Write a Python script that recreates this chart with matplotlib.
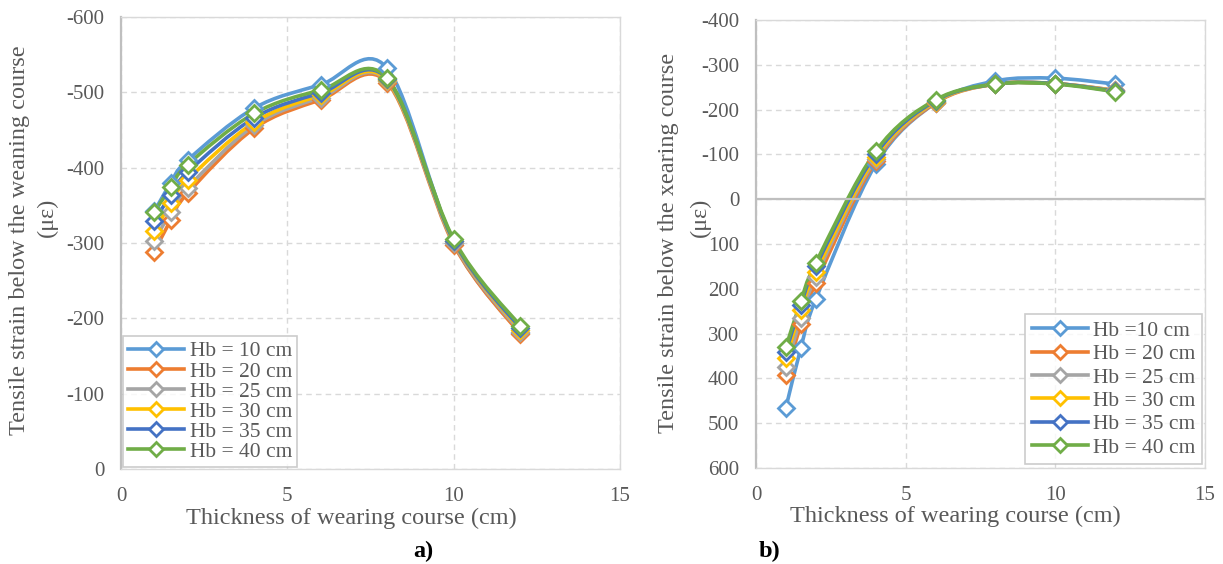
import matplotlib
matplotlib.use("Agg")
import matplotlib.pyplot as plt
from matplotlib.path import Path
from matplotlib.patches import PathPatch
from matplotlib.lines import Line2D
import numpy as np

plt.rcParams['font.family'] = ['Liberation Serif', 'DejaVu Serif']

# ---------------- data ----------------
thickness = [1, 1.5, 2, 4, 6, 8, 10, 12]
series_names_a = ["Hb = 10 cm", "Hb = 20 cm", "Hb = 25 cm", "Hb = 30 cm", "Hb = 35 cm", "Hb = 40 cm"]
series_names_b = ["Hb =10 cm", "Hb = 20 cm", "Hb = 25 cm", "Hb = 30 cm", "Hb = 35 cm", "Hb = 40 cm"]

# panel a) strain below the wearing course (negative values, reversed axis)
hb10_a = [-342, -380, -410, -479, -510, -532, -300, -180]
hb20_a = [-288, -331, -366, -452, -490, -513, -298, -179]
hb25_a = [-303, -341, -373, -456, -493, -515, -300, -182]
hb30_a = [-316, -353, -384, -460, -496, -516, -302, -185]
hb35_a = [-329, -364, -394, -466, -499, -518, -303, -187]
hb40_a = [-341, -374, -404, -472, -503, -519, -305, -190]

# panel b)
hb10_b = [465, 332, 223, -78, -215, -264, -270, -257]
hb20_b = [393, 279, 187, -85, -215, -257, -258, -243]
hb25_b = [374, 266, 173, -90, -217, -257, -258, -243]
hb30_b = [355, 247, 162, -95, -218, -257, -258, -242]
hb35_b = [340, 236, 150, -101, -220, -257, -258, -241]
hb40_b = [330, 227, 142, -107, -222, -257, -257, -240]

colors = ["#5B9BD5", "#ED7D31", "#A5A5A5", "#FFC000", "#4472C4", "#70AD47"]

yticks_a = [-600, -500, -400, -300, -200, -100, 0]
yticks_b = [-400, -300, -200, -100, 0, 100, 200, 300, 400, 500, 600]
xticks = [0, 5, 10, 15]

TXT = "#595959"


def smooth_path(xs, ys):
    """Excel-style smoothed line: Catmull-Rom Bezier segments."""
    pts = np.column_stack([xs, ys]).astype(float)
    n = len(pts)
    verts = [pts[0]]
    codes = [Path.MOVETO]
    for i in range(n - 1):
        p0 = pts[i - 1] if i > 0 else pts[i]
        p1 = pts[i]
        p2 = pts[i + 1]
        p3 = pts[i + 2] if i + 2 < n else pts[i + 1]
        c1 = p1 + (p2 - p0) / 6.0
        c2 = p2 - (p3 - p1) / 6.0
        verts += [c1, c2, p2]
        codes += [Path.CURVE4] * 3
    return Path(verts, codes)


def style_axes(ax, ylim, yticks, xlabel_x):
    ax.set_xlim(0, 15)
    ax.set_ylim(*ylim)
    ax.set_xticks(xticks)
    ax.set_yticks(yticks)
    ax.set_yticklabels([str(v) for v in yticks])
    ax.grid(True, linestyle=(0, (4, 3)), color="#D9D9D9", lw=1)
    ax.set_axisbelow(True)
    for s in ax.spines.values():
        s.set_color("#D9D9D9")
        s.set_linewidth(1)
    ax.spines['left'].set_color("#BFBFBF")
    ax.spines['left'].set_linewidth(1.6)
    ax.tick_params(length=0, labelsize=15, colors=TXT)
    ax.tick_params(axis='y', pad=12)
    ax.tick_params(axis='x', pad=13)
    ax.set_xlabel("Thickness of wearing course (cm)", fontsize=17.5, color=TXT, labelpad=0)
    ax.xaxis.set_label_coords(xlabel_x, -0.085)


def draw_series(ax, data, names):
    handles = []
    for vals, c, nm in zip(data, colors, names):
        patch = PathPatch(smooth_path(thickness, vals), facecolor='none', edgecolor=c,
                          lw=2.6, capstyle='round', joinstyle='round')
        ax.add_patch(patch)
        ax.plot(thickness, vals, linestyle='none', marker='D', ms=8, mfc='white',
                mec=c, mew=2.0)
        handles.append(Line2D([], [], color=c, lw=2.6, marker='D', ms=7.5, mfc='white',
                              mec=c, mew=2.0, label=nm))
    return handles


fig = plt.figure(figsize=(12.23, 5.64), dpi=100)

# ---- panel a ----
axa = fig.add_axes([121 / 1223, 95 / 564, 499 / 1223, 452 / 564])
style_axes(axa, (0, -600), yticks_a, 0.461)
ha = draw_series(axa, [hb10_a, hb20_a, hb25_a, hb30_a, hb35_a, hb40_a], series_names_a)
lega = axa.legend(handles=ha, loc='lower left', bbox_to_anchor=(0.004, 0.004),
                  borderaxespad=0, fontsize=15.5, frameon=True, fancybox=False,
                  edgecolor="#BFBFBF", labelspacing=0.0, handlelength=2.6,
                  handletextpad=0.25, borderpad=0.25, labelcolor=TXT)
lega.get_frame().set_linewidth(1.2)
fig.text(20 / 1223, 1 - 240 / 564, "Tensile strain below the weaning course",
         rotation=90, ha='center', va='center', fontsize=17.5, color=TXT)
fig.text(47 / 1223, 1 - 217 / 564, "(με)",
         rotation=90, ha='center', va='center', fontsize=17.5, color=TXT)
fig.text(423 / 1223, 1 - 551 / 564, "a)", ha='center', va='center', fontsize=17.5,
         fontweight='bold', color='black')

# ---- panel b ----
axb = fig.add_axes([756 / 1223, 96 / 564, 449 / 1223, 448 / 564])
style_axes(axb, (600, -400), yticks_b, 0.443)
axb.axhline(0, color="#BFBFBF", lw=1.6, zorder=1.5)
hb = draw_series(axb, [hb10_b, hb20_b, hb25_b, hb30_b, hb35_b, hb40_b], series_names_b)
legb = axb.legend(handles=hb, loc='lower right', bbox_to_anchor=(0.993, 0.009),
                  borderaxespad=0, fontsize=15.5, frameon=True, fancybox=False,
                  edgecolor="#BFBFBF", labelspacing=0.15, handlelength=2.6,
                  handletextpad=0.25, borderpad=0.3, labelcolor=TXT)
legb.get_frame().set_linewidth(1.2)
fig.text(668 / 1223, 1 - 243 / 564, "Tensile strain below the xearing course",
         rotation=90, ha='center', va='center', fontsize=17.5, color=TXT)
fig.text(700 / 1223, 1 - 217 / 564, "(με)",
         rotation=90, ha='center', va='center', fontsize=17.5, color=TXT)
fig.text(770 / 1223, 1 - 551 / 564, "b)", ha='center', va='center', fontsize=17.5,
         fontweight='bold', color='black')

fig.savefig("out.png", dpi=100)
